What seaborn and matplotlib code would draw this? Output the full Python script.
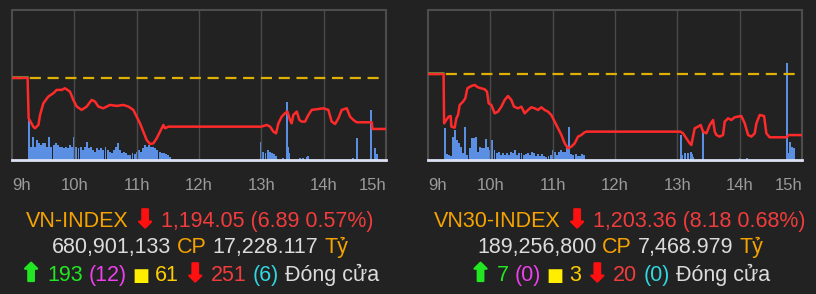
import matplotlib
matplotlib.use("Agg")
import matplotlib.pyplot as plt
import matplotlib.patheffects as pe
import seaborn as sns
import pandas as pd
from matplotlib.offsetbox import TextArea, HPacker, AnnotationBbox

# ---------------- data ----------------
hour_ticks = [0, 60, 120, 180, 240, 300, 360]          # minutes from 9:00
hour_labels = ["9h", "10h", "11h", "12h", "13h", "14h", "15h"]

# VN-INDEX
vn_ref = 1200.94
vn_ylim = (1189.86, 1210.10)
vn_min = [0, 15, 16, 20.5, 22.1, 25.4, 27.0, 30.2, 35.0, 39.8, 43.0, 47.8, 51.0, 55.8, 59.0,
          62.3, 67.1, 71.9, 76.7, 79.9, 83.1, 87.9, 94.3, 100.8, 107.2, 112.0, 116.8, 120.0,
          123.2, 126.4, 129.6, 132.9, 136.1, 139.3, 142.5, 145.7, 147.3, 150.5, 240.0, 242.0,
          245.2, 248.4, 251.6, 254.2, 256.4, 259.6, 262.8, 265.1, 267.6, 269.2, 270.8, 274.1,
          276.6, 278.9, 282.1, 285.3, 288.5, 293.3, 299.7, 304.5, 307.7, 311.0, 314.2, 317.4,
          322.2, 325.4, 328.6, 331.8, 346.3, 346.9, 360]
vn_val = [1200.94, 1200.94, 1195.49, 1194.36, 1194.14, 1194.59, 1195.94, 1197.52, 1198.42,
          1198.87, 1199.32, 1199.32, 1199.54, 1199.09, 1197.97, 1197.07, 1196.62, 1197.07,
          1197.97, 1197.74, 1197.07, 1196.84, 1197.29, 1197.16, 1197.29, 1197.07, 1196.62,
          1195.71, 1194.81, 1193.69, 1192.56, 1192.02, 1192.11, 1192.79, 1193.69, 1194.59,
          1194.14, 1194.36, 1194.36, 1194.45, 1194.59, 1194.36, 1193.69, 1193.46, 1194.81,
          1195.71, 1196.17, 1196.39, 1195.26, 1194.81, 1195.94, 1196.39, 1195.26, 1195.04,
          1195.04, 1195.94, 1196.62, 1196.71, 1196.84, 1196.62, 1195.04, 1194.72, 1195.49,
          1196.62, 1196.84, 1195.71, 1195.26, 1194.95, 1194.95, 1194.05, 1194.05]
vn_vol_min = [16, 18, 20, 22, 24, 26, 28, 30, 32, 34, 36, 38, 40, 42, 44, 46, 48, 50, 52, 54,
              56, 58, 60, 62, 64, 66, 68, 70, 72, 74, 76, 78, 80, 82, 84, 86, 88, 90, 92, 94,
              96, 98, 100, 102, 104, 106, 108, 110, 112, 114, 116, 118, 120, 122, 124, 126,
              128, 130, 132, 134, 136, 138, 140, 142, 144, 146, 148, 150, 152,
              240, 242, 244, 246, 248, 250, 252, 254, 261.2, 264.4, 266, 267, 277.3, 280.5,
              283.7, 285.3, 328.6, 331.8, 345.3, 349.5, 351.1]
vn_vol = [125, 40, 70, 40, 60, 50, 45, 50, 50, 40, 70, 40, 45, 50, 45, 40, 40, 35, 40, 35,
          45, 40, 70, 40, 35, 40, 30, 40, 55, 35, 40, 30, 25, 35, 30, 35, 30, 40, 30, 25,
          20, 30, 40, 50, 30, 20, 25, 20, 15, 15, 20, 18, 25, 30, 25, 35, 45, 40, 45, 40,
          40, 35, 30, 25, 20, 20, 18, 15, 10,
          55, 25, 20, 30, 25, 20, 18, 12, 5, 175, 40, 20, 5, 5, 10, 12, 5, 65, 150, 35, 18]

# VN30-INDEX
vn30_ref = 1211.54
vn30_ylim = (1200.02, 1220.11)
vn30_min = [0, 15, 15.5, 17.6, 19.9, 21.8, 22.5, 25.7, 27.3, 28.9, 30.5, 33.7, 35.9, 37.9,
            41.7, 44.9, 48.1, 51.3, 54.6, 56.8, 58.4, 61.0, 64.2, 67.4, 70.6, 73.8, 77.0,
            80.2, 82.8, 86.6, 89.9, 93.1, 96.3, 99.5, 102.7, 105.9, 109.1, 112.3, 115.5,
            118.7, 121.9, 125.2, 128.4, 131.6, 134.8, 138.0, 141.2, 144.4, 147.6, 150.2,
            152.4, 243.0, 245.5, 248.7, 251.9, 253.5, 255.1, 256.7, 259.9, 262.5, 264.7,
            268.0, 271.2, 274.4, 276.0, 277.6, 280.8, 284.0, 285.6, 288.8, 292.0, 295.2,
            298.4, 301.6, 304.9, 308.1, 311.3, 314.5, 316.1, 319.3, 323.5, 325.7, 328.9,
            345.0, 347.2, 360]
vn30_val = [1211.54, 1211.54, 1204.93, 1205.38, 1205.83, 1205.91, 1204.49, 1204.35, 1205.60,
            1206.05, 1207.39, 1207.83, 1208.28, 1209.62, 1209.93, 1210.07, 1209.75, 1209.62,
            1209.49, 1209.17, 1207.61, 1207.39, 1206.27, 1206.50, 1207.16, 1208.06, 1208.59,
            1208.06, 1207.16, 1206.94, 1207.16, 1206.27, 1206.72, 1207.08, 1206.94, 1206.72,
            1207.08, 1206.72, 1206.50, 1206.05, 1205.16, 1204.26, 1203.37, 1202.25, 1201.58,
            1201.81, 1202.25, 1203.15, 1203.37, 1203.68, 1203.82, 1203.82, 1203.59, 1202.92,
            1202.25, 1202.03, 1203.15, 1204.26, 1204.49, 1204.71, 1203.82, 1203.59, 1204.71,
            1205.38, 1203.82, 1203.37, 1203.15, 1203.37, 1205.16, 1205.60, 1205.38, 1205.74,
            1205.83, 1205.91, 1204.93, 1203.37, 1203.15, 1203.59, 1204.93, 1206.05, 1205.91,
            1203.59, 1203.06, 1203.06, 1203.36, 1203.36]
vn30_vol_min = [16, 18, 20, 22, 24, 26, 28, 30, 32, 34, 36, 38, 40, 42, 44, 46, 48, 50, 52,
                54, 56, 58, 60, 62, 64, 66, 68, 70, 72, 74, 76, 78, 80, 82, 84, 86, 88, 90,
                92, 94, 96, 98, 100, 102, 104, 106, 108, 110, 112, 114, 116, 118, 120, 122,
                124, 126, 128, 130, 132, 134, 136, 138, 140, 142, 144, 146, 148, 150,
                243.2, 244.5, 247.1, 250.3, 252.9, 254.2, 255.4, 264.7, 300.7, 307.1,
                345.6, 347.2, 348.8, 350.4, 352.0]
vn30_vol = [95, 18, 15, 12, 70, 90, 60, 50, 40, 20, 100, 15, 35, 65, 65, 70, 25, 40, 35,
            35, 62, 40, 30, 60, 30, 20, 25, 15, 22, 15, 22, 15, 25, 20, 30, 15, 20, 20,
            15, 18, 20, 15, 25, 20, 12, 18, 12, 18, 12, 10, 12, 15, 30, 25,
            15, 25, 30, 25, 25, 40, 100, 18, 15, 18, 12, 12, 18, 15,
            75, 15, 20, 22, 25, 18, 10, 85, 6, 6,
            290, 20, 55, 40, 35]
vol_top = 450

# ---------------- style ----------------
BG = "#222222"
sns.set_theme(style="dark")
plt.rcParams["font.family"] = ["Liberation Sans", "DejaVu Sans"]

fig = plt.figure(figsize=(8.16, 2.94), dpi=100, facecolor=BG)

W = 374 / 816
H = 150 / 294
B = (294 - 160) / 294
panels = [
    (12 / 816, vn_min, vn_val, vn_ref, vn_ylim, vn_vol_min, vn_vol),
    (428 / 816, vn30_min, vn30_val, vn30_ref, vn30_ylim, vn30_vol_min, vn30_vol),
]

for left, tmin, tval, ref, ylim, vmin, vol in panels:
    ax = fig.add_axes([left, B, W, H])
    ax.set_facecolor(BG)
    axv = ax.twinx()
    ax.set_zorder(axv.get_zorder() + 1)
    ax.patch.set_visible(False)
    axv.set_facecolor(BG)
    axv.bar(vmin, vol, width=1.9, color="#5a8fe3", linewidth=0, align="center")
    axv.set_ylim(0, vol_top)
    axv.set_yticks([])
    axv.grid(False)
    for s in axv.spines.values():
        s.set_visible(False)

    ax.set_xlim(0, 360)
    ax.set_ylim(*ylim)
    for xt in hour_ticks[1:-1]:
        ax.axvline(xt, color="#4a4a4a", lw=1.0, zorder=0)
    ax.axhline(ref, color="#e0b000", lw=1.6, ls=(0, (5, 3)), zorder=2)

    # pre-open segment
    ax.plot([0, 15], [ref + 0.1, ref + 0.1], color="#3cb043", lw=1.2, zorder=3)
    df = pd.DataFrame({"t": tmin, "v": tval})
    sns.lineplot(data=df, x="t", y="v", ax=ax, color="#ff2a2a", lw=1.8,
                 estimator=None, sort=False, zorder=4)

    ax.set_xlabel("")
    ax.set_ylabel("")
    ax.set_yticks([])
    ax.grid(False)
    ax.set_xticks(hour_ticks)
    ax.set_xticklabels(hour_labels)
    ax.tick_params(axis="x", length=0, pad=13, labelsize=12, labelcolor="#9a9a9a")
    labels = ax.get_xticklabels()
    labels[0].set_ha("left")
    labels[-1].set_ha("right")
    for name in ("left", "right", "top"):
        ax.spines[name].set_visible(True)
        ax.spines[name].set_color("#4d4d4d")
        ax.spines[name].set_linewidth(1.5)
    ax.spines["bottom"].set_visible(True)
    ax.spines["bottom"].set_color("#dde3f5")
    ax.spines["bottom"].set_linewidth(2)

# ---------------- text lines ----------------
FS = 15.5
SP = 4.2
ORANGE = "#f5a300"
RED = "#f03c3c"
ARROW_RED = "#ff1010"
GREY = "#dcdcdc"
GREEN = "#22e622"
MAGENTA = "#ee40ee"
YELLOW = "#ffee00"
GOLD = "#ffcc00"
CYAN = "#30d8e0"

SQ = dict(family=["DejaVu Sans"], fontsize=13)


def arrow(col):
    return dict(family=["DejaVu Sans"], fontsize=17.5,
                path_effects=[pe.withStroke(linewidth=1.6, foreground=col)])


def line(parts, xf, yf):
    kids = []
    for txt, col, extra in parts:
        props = dict(color=col, fontsize=FS, family=["Liberation Sans", "DejaVu Sans"])
        if extra:
            props.update(extra)
        kids.append(TextArea(txt, textprops=props))
    pk = HPacker(children=kids, sep=SP, pad=0, align="baseline")
    ab = AnnotationBbox(pk, (xf, yf), xycoords="figure fraction", frameon=False,
                        box_alignment=(0.5, 0.5), pad=0)
    fig.add_artist(ab)


DN = "⬇"
UP = "⬆"
rows = [
    (200 / 816, [
        [("VN-INDEX", ORANGE, None), (DN, ARROW_RED, arrow(ARROW_RED)),
         ("1,194.05 (6.89 0.57%)", RED, None)],
        [("680,901,133", GREY, None), ("CP", ORANGE, None), ("17,228.117", GREY, None), ("Tỷ", ORANGE, None)],
        [(UP, GREEN, arrow(GREEN)), ("193", GREEN, None), ("(12)", MAGENTA, None), ("■", YELLOW, SQ),
         ("61", GOLD, None), (DN, ARROW_RED, arrow(ARROW_RED)), ("251", RED, None), ("(6)", CYAN, None),
         ("Đóng cửa", GREY, None)],
    ]),
    (620 / 816, [
        [("VN30-INDEX", ORANGE, None), (DN, ARROW_RED, arrow(ARROW_RED)),
         ("1,203.36 (8.18 0.68%)", RED, None)],
        [("189,256,800", GREY, None), ("CP", ORANGE, None), ("7,468.979", GREY, None), ("Tỷ", ORANGE, None)],
        [(UP, GREEN, arrow(GREEN)), ("7", GREEN, None), ("(0)", MAGENTA, None), ("■", YELLOW, SQ),
         ("3", GOLD, None), (DN, ARROW_RED, arrow(ARROW_RED)), ("20", RED, None), ("(0)", CYAN, None),
         ("Đóng cửa", GREY, None)],
    ]),
]
ys = [(294 - 220) / 294, (294 - 247) / 294, (294 - 274) / 294]
for xf, lines in rows:
    for parts, yf in zip(lines, ys):
        line(parts, xf, yf)

fig.savefig("out.png", dpi=100, facecolor=BG)
